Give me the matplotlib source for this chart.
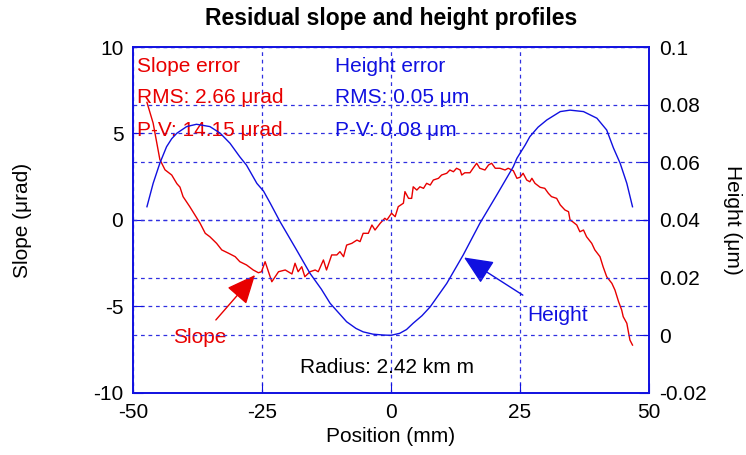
import matplotlib.pyplot as plt

plt.rcParams['font.family'] = ['Liberation Sans', 'DejaVu Sans']
plt.rcParams['axes.unicode_minus'] = False

# Slope error (left axis, urad) along position (mm)
slope_x = [-47.3, -46.1, -44.8, -43.8, -42.5, -41.5, -40.9, -40.3, -39.0, -38.0,
           -37.0, -36.0, -35.1, -33.8, -32.8, -31.5, -30.2, -29.3, -28.0, -26.7,
           -25.7, -25.1, -24.4, -23.1, -21.8, -20.5, -19.2, -18.6, -18.0, -17.3,
           -16.7, -15.7, -14.7, -14.1, -13.1, -12.5, -11.5, -10.5, -9.9, -9.2,
           -8.6, -7.6, -6.6, -6.0, -5.4, -4.4, -3.7, -3.1, -2.1, -1.2,
           -0.8, 0.1, 0.8, 1.4, 2.4, 2.7, 3.4, 4.0, 4.3, 5.0,
           5.6, 6.3, 6.9, 7.6, 8.2, 9.2, 9.8, 10.8, 11.4, 12.1,
           12.7, 13.4, 13.7, 14.3, 15.3, 15.9, 16.6, 17.2, 18.2, 18.9,
           19.5, 20.2, 21.1, 22.1, 22.7, 23.7, 24.4, 25.0, 25.6, 26.3,
           26.9, 27.3, 27.9, 28.9, 29.8, 30.5, 31.1, 32.1, 32.8, 33.7,
           34.4, 34.7, 35.2, 36.0, 36.6, 37.3, 37.9, 38.9, 39.5, 40.5,
           41.1, 41.8, 42.8, 43.4, 44.1, 44.7, 45.0, 45.7, 46.0, 46.3, 46.8]
slope_y = [6.8, 5.6, 3.5, 2.9, 2.6, 2.1, 1.9, 1.35, 0.77, 0.29,
           -0.19, -0.77, -0.97, -1.35, -1.73, -1.92, -2.12, -2.41, -2.6, -2.89,
           -3.05, -2.99, -2.41, -3.57, -2.99, -2.89, -3.12, -2.5, -2.99, -2.7,
           -3.28, -2.99, -2.89, -2.99, -2.31, -2.89, -2.02, -2.02, -1.83, -2.12,
           -1.45, -1.35, -1.16, -1.25, -0.77, -0.77, -0.29, -0.58, -0.19, 0.1,
           0.0, 0.39, 0.19, 0.77, 0.97, 1.64, 1.25, 1.25, 1.92, 1.73,
           1.92, 1.83, 2.12, 2.02, 2.31, 2.41, 2.6, 2.7, 2.89, 2.79,
           2.99, 2.89, 2.6, 2.73, 2.73, 2.99, 3.28, 2.99, 2.89, 3.18,
           3.28, 2.99, 2.99, 2.89, 2.99, 2.85, 2.41, 2.47, 2.7, 2.31,
           2.21, 2.41, 2.12, 1.89, 1.83, 1.54, 1.35, 1.25, 0.87, 0.58,
           0.48, 0.0, -0.1, -0.29, -0.68, -0.58, -0.97, -1.35, -1.73, -2.12,
           -2.7, -3.28, -3.66, -4.05, -4.72, -5.2, -5.59, -5.97, -6.46, -6.94, -7.23]

# Height error (right axis, um)
height_x = [-47.3, -46.1, -44.8, -43.5, -42.5, -41.5, -39.6, -37.7, -35.1, -33.1,
            -31.2, -29.3, -28.0, -26.0, -24.7, -23.4, -21.5, -18.3, -15.7, -13.5,
            -11.8, -10.0, -8.6, -6.8, -5.4, -3.5, -1.5, 0.0, 1.7, 3.0,
            4.3, 6.0, 7.6, 10.8, 14.0, 17.2, 20.5, 23.7, 24.4, 26.0,
            26.9, 28.5, 30.2, 32.8, 34.7, 37.3, 39.9, 41.8, 43.1, 44.4,
            45.7, 46.8]
height_y = [0.0446, 0.0527, 0.0597, 0.0654, 0.0682, 0.0701, 0.0724, 0.0732, 0.0724, 0.0701,
            0.0666, 0.0619, 0.0590, 0.0527, 0.0500, 0.0458, 0.0394, 0.0296, 0.0215, 0.0160,
            0.0111, 0.0075, 0.0047, 0.0024, 0.0012, 0.0004, 0.0001, 0.0, 0.0007, 0.0020,
            0.0042, 0.0068, 0.0099, 0.0180, 0.0279, 0.0388, 0.0487, 0.0585, 0.0614, 0.0660,
            0.0689, 0.0722, 0.0747, 0.0776, 0.0781, 0.0776, 0.0753, 0.0712, 0.0650, 0.0597,
            0.0527, 0.0446]

slope_text = ['Slope error', 'RMS: 2.66 \u03bcrad', 'P-V: 14.15 \u03bcrad']
height_text = ['Height error', 'RMS: 0.05 \u03bcm', 'P-V: 0.08 \u03bcm']
text_rows = [8.9, 7.1, 5.2]

fig = plt.figure(figsize=(7.46, 4.55), dpi=100)
ax = fig.add_axes([0.1783, 0.1363, 0.6917, 0.7604])
ax2 = ax.twinx()

ax.plot(slope_x, slope_y, color='#e80000', lw=1)
ax2.plot(height_x, height_y, color='#1010e0', lw=1)

ax.set_xlim(-50, 50)
ax.set_ylim(-10, 10)
ax2.set_ylim(-0.02, 0.1)
ax.set_xticks([-50, -25, 0, 25, 50])
ax.set_yticks([-10, -5, 0, 5, 10])
ax2.set_yticks([-0.02, 0, 0.02, 0.04, 0.06, 0.08, 0.1])
ax2.set_yticklabels(['-0.02', '0', '0.02', '0.04', '0.06', '0.08', '0.1'])

grid_style = dict(color='#3030e0', linestyle=(0, (3, 3)), linewidth=0.9)
ax.grid(True, **grid_style)
ax2.grid(True, axis='y', **grid_style)
ax.set_axisbelow(True)

for a in (ax, ax2):
    a.tick_params(direction='in', length=7, color='#1010e0', labelsize=15, pad=7)
    for s in a.spines.values():
        s.set_color('#1010e0')
        s.set_linewidth(1.2)

ax.set_xlabel('Position (mm)', fontsize=15)
ax.set_ylabel('Slope (\u03bcrad)', fontsize=15, labelpad=44)
ax2.set_ylabel('Height (\u03bcm)', fontsize=15, rotation=270, labelpad=26)
ax.set_title('Residual slope and height profiles', fontsize=16.5, fontweight='bold', pad=16)

for t, yv in zip(slope_text, text_rows):
    ax.text(-49.3, yv, t, color='#e80000', fontsize=15, va='center', ha='left')
for t, yv in zip(height_text, text_rows):
    ax.text(-10.9, yv, t, color='#1010e0', fontsize=15, va='center', ha='left')

ax.text(-0.8, -8.5, 'Radius: 2.42 km m', color='black', fontsize=15, ha='center', va='center')

ax.text(-37, -6.8, 'Slope', color='#e80000', fontsize=15, ha='center', va='center')
ax.annotate('', xy=(-26.0, -3.06), xytext=(-34.3, -5.9),
            arrowprops=dict(arrowstyle='-|>,head_length=0.9,head_width=0.4',
                            mutation_scale=20, color='#e80000', lw=1))
ax.text(26.4, -5.5, 'Height', color='#1010e0', fontsize=15, ha='left', va='center')
ax.annotate('', xy=(13.7, -2.08), xytext=(26.0, -4.43),
            arrowprops=dict(arrowstyle='-|>,head_length=0.9,head_width=0.4',
                            mutation_scale=20, color='#1010e0', lw=1))

fig.savefig('out.png', dpi=100)
